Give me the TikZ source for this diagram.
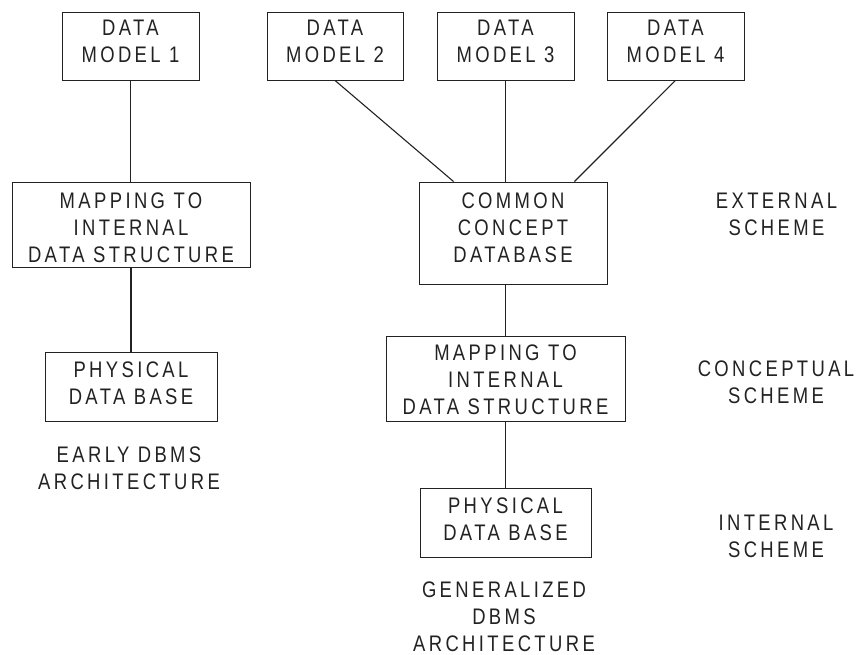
\documentclass[tikz,border=0pt]{standalone}
\usepackage{fontspec}
\newfontfamily\dmfont[FakeStretch=0.82,LetterSpace=15]{Liberation Sans}
\usetikzlibrary{calc}
\definecolor{ink}{HTML}{222222}
\tikzset{
  bx/.style={draw=ink,line width=0.9pt,inner sep=0pt},
  tx/.style={align=center,inner sep=0pt,text=ink,font=\dmfont\fontsize{22.5}{27}\selectfont},
  conn/.style={draw=ink,line width=1.1pt}
}
\begin{document}
\begin{tikzpicture}[x=1pt,y=-1pt]
\useasboundingbox (0,0) rectangle (859,655);
% boxes
\node[bx,minimum width=137pt,minimum height=68pt,label={[tx,yshift=4.5pt]center:{DATA\\MODEL 1}}] (dm1) at (130.5,46) {};
\node[bx,minimum width=136pt,minimum height=68pt,label={[tx,yshift=4.5pt]center:{DATA\\MODEL 2}}] (dm2) at (335,46) {};
\node[bx,minimum width=137pt,minimum height=68pt,label={[tx,yshift=4.5pt]center:{DATA\\MODEL 3}}] (dm3) at (505.5,46) {};
\node[bx,minimum width=137pt,minimum height=68pt,label={[tx,yshift=4.5pt]center:{DATA\\MODEL 4}}] (dm4) at (675.5,46) {};
\node[bx,minimum width=238pt,minimum height=85pt,label={[tx,yshift=-3pt]center:{MAPPING TO\\INTERNAL\\DATA STRUCTURE}}] (map1) at (131,224.5) {};
\node[bx,minimum width=188pt,minimum height=102pt,label={[tx,yshift=5.5pt]center:{COMMON\\CONCEPT\\DATABASE}}] (common) at (513,233) {};
\node[bx,minimum width=172pt,minimum height=69pt,label={[tx,yshift=3pt]center:{PHYSICAL\\DATA BASE}}] (phys1) at (131,386.5) {};
\node[bx,minimum width=239pt,minimum height=85pt,label={[tx,yshift=-1.5pt]center:{MAPPING TO\\INTERNAL\\DATA STRUCTURE}}] (map2) at (505.5,378.5) {};
\node[bx,minimum width=171pt,minimum height=69pt,label={[tx,yshift=3.5pt]center:{PHYSICAL\\DATA BASE}}] (phys2) at (505.5,522.5) {};
% free labels
\node[tx] (ext) at (776.5,214) {EXTERNAL\\SCHEME};
\node[tx] (conc) at (776,382.5) {CONCEPTUAL\\SCHEME};
\node[tx] (int) at (776,536.5) {INTERNAL\\SCHEME};
\node[tx] (early) at (129,468.5) {EARLY DBMS\\ARCHITECTURE};
\node[tx] (gen) at (504,617) {GENERALIZED\\DBMS\\ARCHITECTURE};
% connectors
\draw[conn] (dm1.south) -- (map1.north -| dm1.south);
\draw[conn] (map1.south) -- (phys1.north);
\draw[conn] (dm2.south) -- ($(common.north west)+(35,0)$);
\draw[conn] (dm3.south) -- (common.north -| dm3.south);
\draw[conn] (dm4.south) -- ($(common.north east)+(-33,0)$);
\draw[conn] (map2.north |- common.south) -- (map2.north);
\draw[conn] (map2.south) -- (phys2.north);
\end{tikzpicture}
\end{document}
